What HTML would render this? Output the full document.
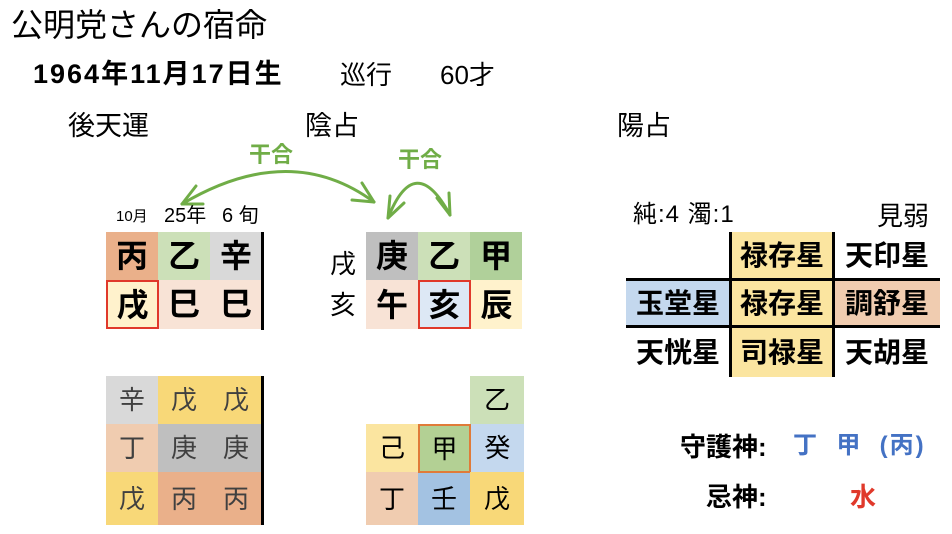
<!DOCTYPE html>
<html><head><meta charset="utf-8"><style>
body{margin:0;width:952px;height:534px;background:#fff;position:relative;overflow:hidden;font-family:"Liberation Sans","Noto Sans CJK JP",sans-serif;color:#000}
.a{position:absolute;white-space:nowrap;line-height:1}
.c{position:absolute;display:flex;align-items:center;justify-content:center;box-sizing:border-box;line-height:1}
.b{font-weight:bold;font-size:32px}
.n{font-size:26px;color:#404040}
.s{font-weight:bold;font-size:28px}
</style></head><body>
<div class="a" style="left:11px;top:9px;font-size:32px">公明党さんの宿命</div>
<div class="a" style="left:33px;top:61px;font-size:27px;font-weight:bold;letter-spacing:2px">1964年11月17日生</div>
<div class="a" style="left:340px;top:62px;font-size:26px">巡行</div>
<div class="a" style="left:440px;top:62px;font-size:26px">60才</div>
<div class="a" style="left:68px;top:113px;font-size:27px">後天運</div>
<div class="a" style="left:305px;top:113px;font-size:27px">陰占</div>
<div class="a" style="left:617px;top:113px;font-size:27px">陽占</div>

<svg style="position:absolute;left:0;top:0" width="952" height="534">
<g fill="none" stroke="#70ad47" stroke-width="3" stroke-linecap="round">
<path d="M182,204 Q290,140 374,202"/>
<path d="M182,204 L196,186 M182,204 L203,204"/>
<path d="M374,202 L352,200 M374,202 L362,183"/>
<path d="M388,218 Q415,150 450,215"/>
<path d="M388,218 L390,196 M388,218 L404,203"/>
<path d="M450,215 L437,198 M450,215 L449,193"/>
</g>
<text x="249" y="162" fill="#70ad47" font-size="22" font-weight="bold" font-family="Liberation Sans,Noto Sans CJK JP,sans-serif">干合</text>
<text x="398" y="167" fill="#70ad47" font-size="22" font-weight="bold" font-family="Liberation Sans,Noto Sans CJK JP,sans-serif">干合</text>
</svg>

<div class="a" style="left:116px;top:209px;font-size:15px">10月</div>
<div class="a" style="left:164px;top:206px;font-size:20px">25年</div>
<div class="a" style="left:222px;top:206px;font-size:20px">6 旬</div>

<div class="c b" style="left:106px;top:232px;width:52px;height:48px;background:#eab08a">丙</div>
<div class="c b" style="left:158px;top:232px;width:52px;height:48px;background:#cce0b8">乙</div>
<div class="c b" style="left:210px;top:232px;width:52px;height:48px;background:#d9d9d9">辛</div>
<div class="c b" style="left:106px;top:280px;width:53px;height:49px;background:#fff2cc;border:2px solid #e0392b">戌</div>
<div class="c b" style="left:159px;top:280px;width:103px;height:49px;background:#f8e3d6"></div>
<div class="c b" style="left:158px;top:280px;width:52px;height:48px">巳</div>
<div class="c b" style="left:210px;top:280px;width:52px;height:48px">巳</div>
<div style="position:absolute;left:261px;top:232px;width:3px;height:98px;background:#000"></div>

<div class="c" style="left:326px;top:249px;width:34px;height:30px;font-size:26px">戌</div>
<div class="c" style="left:326px;top:290px;width:34px;height:30px;font-size:26px">亥</div>
<div class="c b" style="left:366px;top:232px;width:52px;height:48px;background:#bfbfbf">庚</div>
<div class="c b" style="left:418px;top:232px;width:52px;height:48px;background:#cce0b8">乙</div>
<div class="c b" style="left:470px;top:232px;width:52px;height:48px;background:#b0d09a">甲</div>
<div class="c b" style="left:366px;top:280px;width:52px;height:49px;background:#f8e3d6">午</div>
<div class="c b" style="left:418px;top:280px;width:53px;height:49px;background:#dde8f5;border:2px solid #e0392b">亥</div>
<div class="c b" style="left:471px;top:280px;width:51px;height:49px;background:#fff2cc">辰</div>

<div class="c n" style="left:106px;top:376px;width:52px;height:48px;background:#d9d9d9">辛</div>
<div class="c n" style="left:158px;top:376px;width:52px;height:48px;background:#f8d878">戊</div>
<div class="c n" style="left:210px;top:376px;width:52px;height:48px;background:#f8d878">戊</div>
<div class="c n" style="left:106px;top:424px;width:52px;height:48px;background:#f0ccb0">丁</div>
<div class="c n" style="left:158px;top:424px;width:52px;height:48px;background:#bfbfbf">庚</div>
<div class="c n" style="left:210px;top:424px;width:52px;height:48px;background:#bfbfbf">庚</div>
<div class="c n" style="left:106px;top:472px;width:52px;height:53px;background:#f8d878">戊</div>
<div class="c n" style="left:158px;top:472px;width:52px;height:53px;background:#eab08a">丙</div>
<div class="c n" style="left:210px;top:472px;width:52px;height:53px;background:#eab08a">丙</div>
<div style="position:absolute;left:261px;top:376px;width:3px;height:149px;background:#000"></div>

<div class="c n" style="left:470px;top:376px;width:54px;height:48px;background:#cce0b8;color:#000">乙</div>
<div class="c n" style="left:366px;top:424px;width:52px;height:48px;background:#fbe5a0;color:#000">己</div>
<div class="c n" style="left:418px;top:424px;width:53px;height:49px;background:#b3d094;border:2px solid #e07b39;color:#000">甲</div>
<div class="c n" style="left:471px;top:424px;width:53px;height:48px;background:#c4d8ee;color:#000">癸</div>
<div class="c n" style="left:366px;top:472px;width:52px;height:53px;background:#f0ccb0;color:#000">丁</div>
<div class="c n" style="left:418px;top:473px;width:52px;height:52px;background:#a3c2e2;color:#000">壬</div>
<div class="c n" style="left:470px;top:472px;width:54px;height:53px;background:#f8d878;color:#000">戊</div>

<div class="a" style="left:633px;top:203px;font-size:24px;letter-spacing:1px">純:4 濁:1</div>
<div class="a" style="left:877px;top:203px;font-size:26px">見弱</div>
<div class="c s" style="left:731px;top:232px;width:102px;height:48px;background:#fbe5a0">禄存星</div>
<div class="c s" style="left:834px;top:232px;width:106px;height:48px">天印星</div>
<div class="c s" style="left:626px;top:280px;width:104px;height:47px;background:#c4d8ee">玉堂星</div>
<div class="c s" style="left:731px;top:280px;width:102px;height:47px;background:#fbe5a0">禄存星</div>
<div class="c s" style="left:834px;top:280px;width:106px;height:47px;background:#f0ccb0">調舒星</div>
<div class="c s" style="left:626px;top:328px;width:104px;height:49px">天恍星</div>
<div class="c s" style="left:731px;top:328px;width:102px;height:49px;background:#fbe5a0">司禄星</div>
<div class="c s" style="left:834px;top:328px;width:106px;height:49px">天胡星</div>
<div style="position:absolute;left:729px;top:232px;width:3px;height:145px;background:#000"></div>
<div style="position:absolute;left:832px;top:232px;width:3px;height:145px;background:#000"></div>
<div style="position:absolute;left:626px;top:278px;width:314px;height:3px;background:#000"></div>
<div style="position:absolute;left:626px;top:325px;width:314px;height:3px;background:#000"></div>

<div class="a" style="left:680px;top:434px;font-size:26px;font-weight:bold">守護神:</div>
<div class="a" style="left:793px;top:434px;font-size:24px;font-weight:bold;color:#4472c4;letter-spacing:2px">丁&nbsp; 甲&nbsp; (丙)</div>
<div class="a" style="left:706px;top:484px;font-size:26px;font-weight:bold">忌神:</div>
<div class="a" style="left:850px;top:484px;font-size:26px;font-weight:bold;color:#e0392b">水</div>
</body></html>
